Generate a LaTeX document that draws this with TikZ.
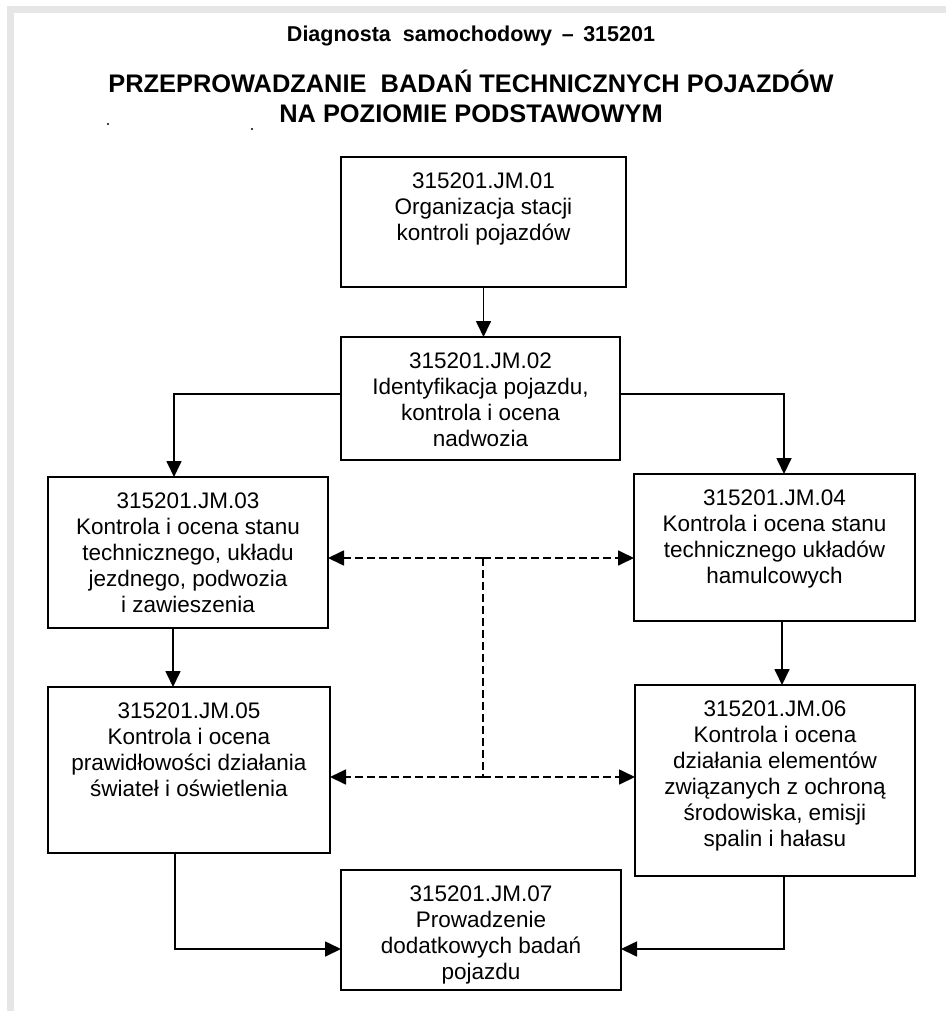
\documentclass[tikz,border=0pt]{standalone}
\usepackage{fontspec}
\setmainfont{Liberation Sans}
\usetikzlibrary{arrows.meta,calc}
\definecolor{framegray}{HTML}{E6E6E6}
\begin{document}
\begin{tikzpicture}[x=1pt,y=-1pt,
  box/.style={draw, line width=1.7pt, inner sep=0pt, outer sep=0pt},
  txt/.style={anchor=north, align=center, inner sep=0pt,
    font=\fontsize{22.5}{26}\selectfont},
  tip/.style={-{Triangle[length=16pt,width=15pt]}},
  conn/.style={line width=1.7pt, tip},
  dconn/.style={line width=1.7pt, dash pattern=on 8pt off 4pt},
]
% page and frame
\useasboundingbox (0,0) rectangle (946,1011);
\fill[white] (0,0) rectangle (946,1011);
\fill[framegray] (7,6) rectangle (946,13);
\fill[framegray] (7,6) rectangle (14,1011);

% headings
\node[font=\bfseries\fontsize{21.5}{25}\selectfont] (h1) at (471,36)
  {Diagnosta\ \ samochodowy \,–\, 315201};
\node[align=center, font=\bfseries\fontsize{25.4}{30}\selectfont] (h2) at (471,96)
  {PRZEPROWADZANIE\ \ BADAŃ TECHNICZNYCH POJAZDÓW\\NA POZIOMIE PODSTAWOWYM};
\fill (108,124) circle (1.1);
\fill (252,129) circle (1.1);

% boxes
\node[box, minimum width=285pt, minimum height=130pt] (b1) at (483.5,222) {};
\node[box, minimum width=279pt, minimum height=123pt] (b2) at (480.5,398.5) {};
\node[box, minimum width=280pt, minimum height=151pt] (b3) at (188,552.5) {};
\node[box, minimum width=281pt, minimum height=147pt] (b4) at (774.5,547.5) {};
\node[box, minimum width=282pt, minimum height=166pt] (b5) at (189,770) {};
\node[box, minimum width=280pt, minimum height=191pt] (b6) at (775,780.5) {};
\node[box, minimum width=280pt, minimum height=120pt] (b7) at (481,930) {};

% box texts
\node[txt] (t1) at ([yshift=-16pt]b1.north)
  {315201.JM.01\\Organizacja stacji\\kontroli pojazdów};
\node[txt] (t2) at ([yshift=-16pt]b2.north)
  {315201.JM.02\\Identyfikacja pojazdu,\\kontrola i ocena\\nadwozia};
\node[txt] (t3) at ([yshift=-16pt]b3.north)
  {315201.JM.03\\Kontrola i ocena stanu\\technicznego, układu\\jezdnego, podwozia\\i zawieszenia};
\node[txt] (t4) at ([yshift=-16pt]b4.north)
  {315201.JM.04\\Kontrola i ocena stanu\\technicznego układów\\hamulcowych};
\node[txt] (t5) at ([yshift=-16pt]b5.north)
  {315201.JM.05\\Kontrola i ocena\\prawidłowości działania\\świateł i oświetlenia};
\node[txt] (t6) at ([yshift=-16pt]b6.north)
  {315201.JM.06\\Kontrola i ocena\\działania elementów\\związanych z ochroną\\środowiska, emisji\\spalin i hałasu};
\node[txt] (t7) at ([yshift=-16pt]b7.north)
  {315201.JM.07\\Prowadzenie\\dodatkowych badań\\pojazdu};

% solid connectors
\draw[conn] (b1.south) -- (b1.south |- b2.north);
\draw[conn] ([yshift=4.5pt]b2.west) -| ([xshift=-14pt]b3.north);
\draw[conn] ([yshift=4.5pt]b2.east) -| ([xshift=9.5pt]b4.north);
\draw[conn] ([xshift=-15pt]b3.south) -- ([xshift=-15pt]b3.south |- b5.north);
\draw[conn] ([xshift=7.5pt]b4.south) -- ([xshift=7.5pt]b4.south |- b6.north);
\draw[conn] ([xshift=-14pt]b5.south) |- ([yshift=-19pt]b7.west);
\draw[conn] ([xshift=9pt]b6.south) |- ([yshift=-19pt]b7.east);

% dashed links between the middle boxes
\coordinate (du) at (483,558);
\coordinate (dl) at (483,777);
\draw[dconn] (du) -- (dl);
\draw[dconn, tip] (du) -- (du -| b3.east);
\draw[dconn, tip] (du) -- (du -| b4.west);
\draw[dconn, tip] (dl) -- (dl -| b5.east);
\draw[dconn, tip] (dl) -- (dl -| b6.west);
\end{tikzpicture}
\end{document}
